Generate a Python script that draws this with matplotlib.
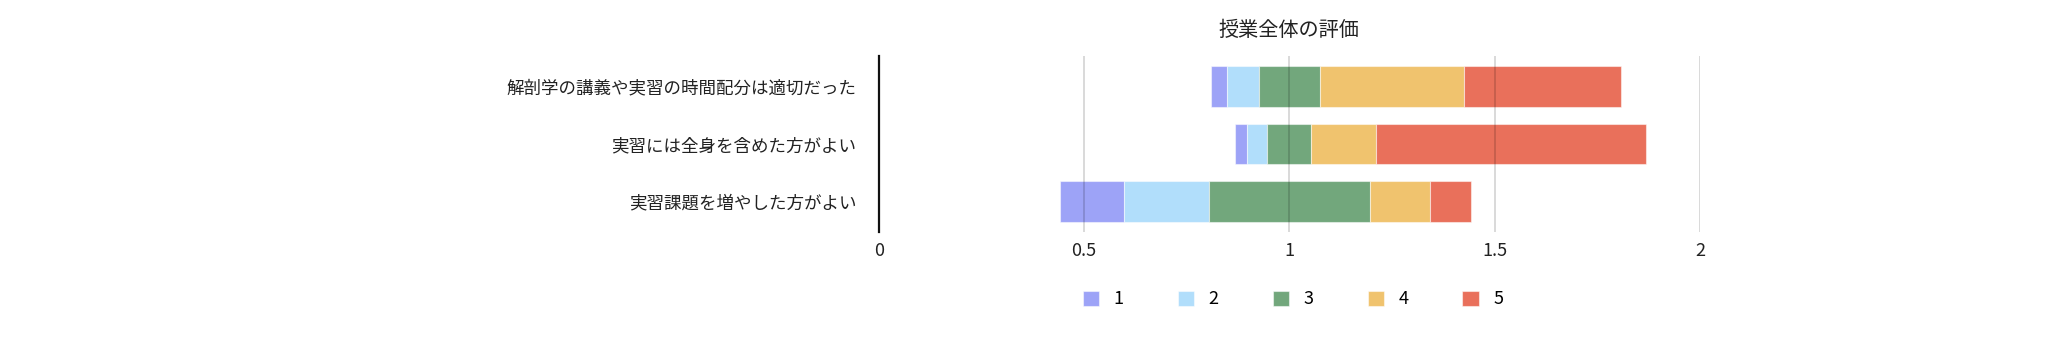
import matplotlib
matplotlib.use("Agg")
import matplotlib.pyplot as plt
import numpy as np

plt.rcParams["font.family"] = ["Noto Sans CJK JP", "DejaVu Sans"]

# questions (top to bottom) and answer counts for ratings 1..5
questions = [
    "解剖学の講義や実習の時間配分は適切だった",
    "実習には全身を含めた方がよい",
    "実習課題を増やした方がよい",
]
ratings = ["1", "2", "3", "4", "5"]
counts_q1 = [4, 8, 15, 36, 39]
counts_q2 = [3, 5, 11, 16, 67]
counts_q3 = [16, 21, 40, 15, 10]
colors = ["#9DA3F7", "#B1DEFB", "#72A77C", "#F0C36E", "#E9705B"]
x_ticks = [0, 0.5, 1, 1.5, 2]
x_ticklabels = ["0", "0.5", "1", "1.5", "2"]

counts = np.array([counts_q1, counts_q2, counts_q3], dtype=float)
share = counts / counts.sum(axis=1, keepdims=True)
# diverging layout: middle of the neutral (3) segment sits at 1
left = 1 - (share[:, 0] + share[:, 1] + share[:, 2] / 2)

fig = plt.figure(figsize=(20.48, 3.46), dpi=100)
ax = fig.add_axes([878.7 / 2048, 1 - 232 / 346, 821.3 / 2048, 176 / 346])

y = np.arange(len(questions))
for j, r in enumerate(ratings):
    ax.barh(y, share[:, j], left=left, height=0.71, color=colors[j],
            edgecolor=(1, 1, 1, 0.5), linewidth=0.8, label=r, zorder=2)
    left = left + share[:, j]

ax.set_xlim(0, 2)
ax.set_ylim(2.53, -0.53)
ax.set_xticks(x_ticks)
ax.set_xticklabels(x_ticklabels, fontsize=13, color="#222222")
ax.set_yticks(y)
ax.set_yticklabels(questions, fontsize=12.6, color="#222222")
ax.tick_params(axis="x", length=0, pad=7)
ax.tick_params(axis="y", length=0, pad=16)
ax.grid(axis="x", color="#000000", alpha=0.16, linewidth=1.3, zorder=3)
ax.set_axisbelow(False)
for s in ["top", "right", "bottom"]:
    ax.spines[s].set_visible(False)
ax.spines["left"].set_color("#111111")
ax.spines["left"].set_linewidth(1.6)
ax.spines["left"].set_zorder(4)

fig.text(1289 / 2048, 1 - 30 / 346, "授業全体の評価", ha="center", va="center",
         fontsize=14.5, color="#222222")

fig.legend(loc="center", bbox_to_anchor=(1293 / 2048, 1 - 299.5 / 346), ncol=5,
           frameon=False, fontsize=13, handlelength=0.9, handleheight=0.9,
           handletextpad=0.8, columnspacing=3.0)

fig.savefig("out.png", dpi=100)
